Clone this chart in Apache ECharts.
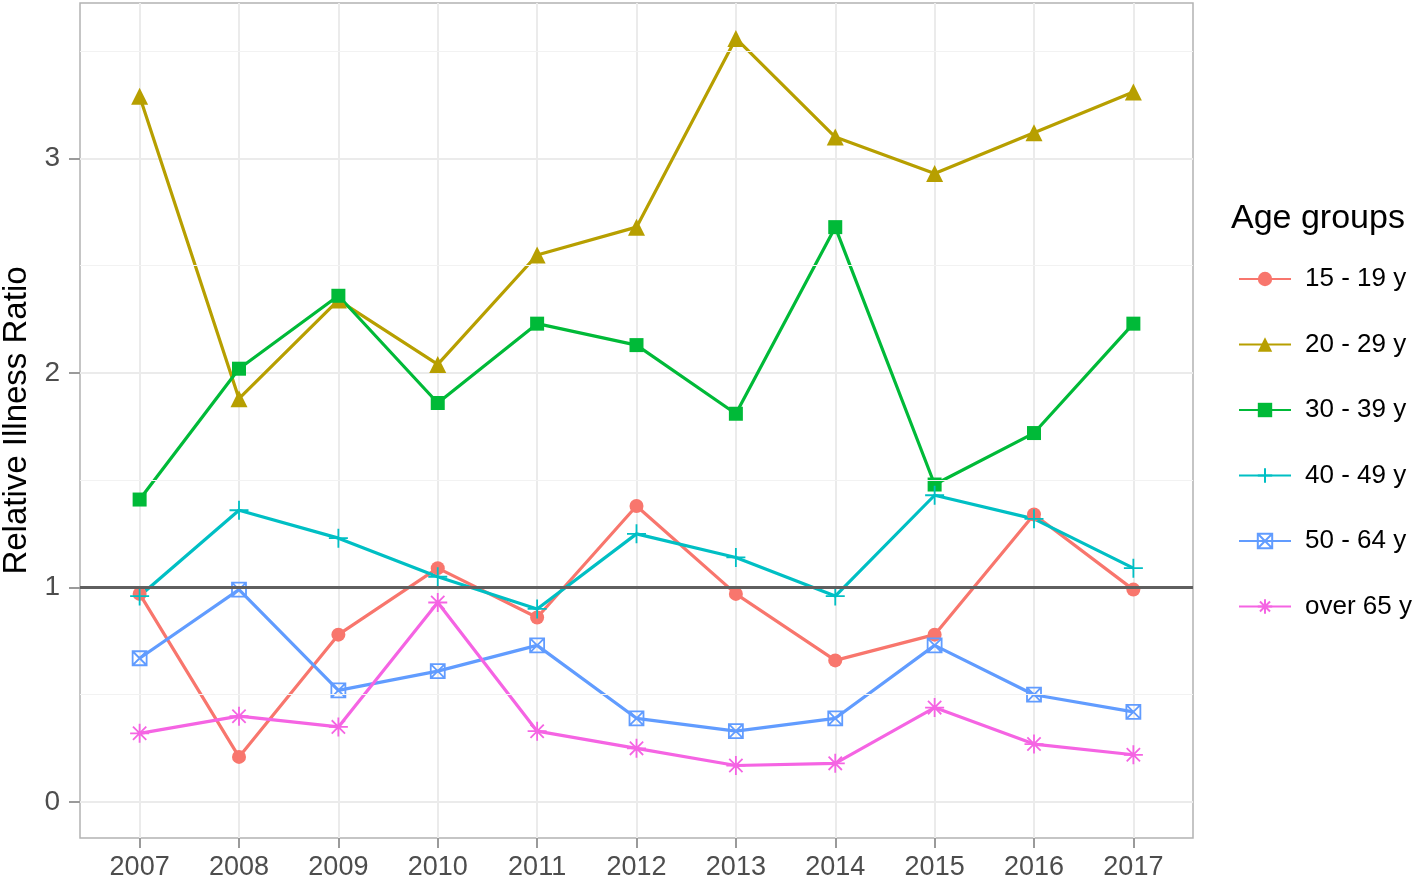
<!DOCTYPE html>
<html>
<head>
<meta charset="utf-8">
<script src="https://cdn.jsdelivr.net/npm/echarts@6/dist/echarts.min.js"></script>
<style>
html, body { margin: 0; background: #fff; }
#chart { width: 1418px; height: 882px; }
</style>
</head>
<body>
<div id="chart"></div>
<script>
// years on the x axis
const years = [2007, 2008, 2009, 2010, 2011, 2012, 2013, 2014, 2015, 2016, 2017];
const groups = ['15 - 19 y', '20 - 29 y', '30 - 39 y', '40 - 49 y', '50 - 64 y', 'over 65 y'];

// relative illness ratio per age group
const age15to19 = [0.97, 0.21, 0.78, 1.09, 0.86, 1.38, 0.97, 0.66, 0.78, 1.34, 0.99];
const age20to29 = [3.29, 1.88, 2.34, 2.04, 2.55, 2.68, 3.56, 3.10, 2.93, 3.12, 3.31];
const age30to39 = [1.41, 2.02, 2.36, 1.86, 2.23, 2.13, 1.81, 2.68, 1.48, 1.72, 2.23];
const age40to49 = [0.96, 1.36, 1.23, 1.05, 0.90, 1.25, 1.14, 0.96, 1.43, 1.32, 1.09];
const age50to64 = [0.67, 0.99, 0.52, 0.61, 0.73, 0.39, 0.33, 0.39, 0.73, 0.50, 0.42];
const ageOver65 = [0.32, 0.40, 0.35, 0.93, 0.33, 0.25, 0.17, 0.18, 0.44, 0.27, 0.22];

const yTicks = [0, 1, 2, 3];
const yMinor = [0.5, 1.5, 2.5, 3.5];
const refValue = 1;

const font = '"Liberation Sans", Arial, sans-serif';

function pairs(values) {
  return values.map((v, i) => [years[i], v]);
}

// ggplot-like symbols
const plusPath = 'path://M5,0V10M0,5H10';
const boxCrossPath = 'path://M0,0H10V10H0ZM0,0L10,10M10,0L0,10';
const starPath = 'path://M5,0V10M0,5H10M1.5,1.5L8.5,8.5M8.5,1.5L1.5,8.5';

function filledSeries(name, values, color, symbol, size) {
  return {
    name: name,
    type: 'line',
    data: pairs(values),
    symbol: symbol,
    symbolSize: size,
    lineStyle: { color: color, width: 3.2 },
    itemStyle: { color: color },
    z: 3
  };
}

function strokedSeries(name, values, color, symbol, size) {
  return {
    name: name,
    type: 'line',
    data: pairs(values),
    symbol: symbol,
    symbolSize: size,
    lineStyle: { color: color, width: 3.2 },
    itemStyle: { color: 'rgba(0,0,0,0)', borderColor: color, borderWidth: 1.8 },
    z: 3
  };
}

const chart = echarts.init(document.getElementById('chart'));

const option = {
  animation: false,
  backgroundColor: '#fff',
  title: {
    text: 'Age groups',
    left: 1231,
    top: 202,
    padding: 0,
    textStyle: { fontFamily: font, fontSize: 34, fontWeight: 'normal', color: '#000' }
  },
  legend: {
    orient: 'vertical',
    left: 1238,
    top: 266,
    padding: 0,
    itemWidth: 52,
    itemHeight: 18,
    itemGap: 39.5,
    data: groups,
    textStyle: { fontFamily: font, fontSize: 26, color: '#000', padding: [0, 0, 0, 9] }
  },
  grid: {
    left: 80,
    right: 225,
    top: 3,
    bottom: 44,
    containLabel: false,
    outerBoundsMode: 'none',
    show: true,
    borderColor: '#B3B3B3',
    borderWidth: 1.5,
    backgroundColor: '#fff'
  },
  xAxis: {
    type: 'value',
    min: 2006.4,
    max: 2017.6,
    axisLine: { show: false, onZero: false },
    axisTick: { show: true, length: 10, customValues: years, lineStyle: { color: '#9A9A9A', width: 2 } },
    axisLabel: {
      customValues: years,
      margin: 16,
      color: '#4D4D4D',
      fontFamily: font,
      fontSize: 27,
      formatter: v => String(v)
    },
    splitLine: { show: true, lineStyle: { color: '#EBEBEB', width: 2 } }
  },
  yAxis: {
    type: 'value',
    min: -0.168,
    max: 3.725,
    name: 'Relative Illness Ratio',
    nameLocation: 'middle',
    nameGap: 47,
    nameMoveOverlap: false,
    nameTextStyle: { fontFamily: font, fontSize: 33, color: '#000' },
    axisLine: { show: false, onZero: false },
    axisTick: { show: true, length: 11, customValues: yTicks, lineStyle: { color: '#9A9A9A', width: 2 } },
    axisLabel: {
      customValues: yTicks,
      margin: 20,
      color: '#4D4D4D',
      fontFamily: font,
      fontSize: 28
    },
    splitLine: { show: true, lineStyle: { color: '#EBEBEB', width: 2 } }
  },
  series: [
    {
      name: 'guides',
      type: 'line',
      data: [],
      silent: true,
      z: 1,
      markLine: {
        silent: true,
        symbol: 'none',
        label: { show: false },
        animation: false,
        data: yMinor.map(v => ({ yAxis: v, lineStyle: { color: '#F2F2F2', width: 1.2, type: 'solid' } }))
          .concat([{ yAxis: refValue, lineStyle: { color: '#5F5F5F', width: 3, type: 'solid' } }])
      }
    },
    filledSeries(groups[0], age15to19, '#F8766D', 'circle', 14),
    filledSeries(groups[1], age20to29, '#B79F00', 'triangle', 17),
    filledSeries(groups[2], age30to39, '#00BA38', 'rect', 14),
    strokedSeries(groups[3], age40to49, '#00BFC4', plusPath, 19),
    strokedSeries(groups[4], age50to64, '#619CFF', boxCrossPath, 14),
    strokedSeries(groups[5], ageOver65, '#F564E3', starPath, 19)
  ]
};

chart.setOption(option);
</script>
</body>
</html>
